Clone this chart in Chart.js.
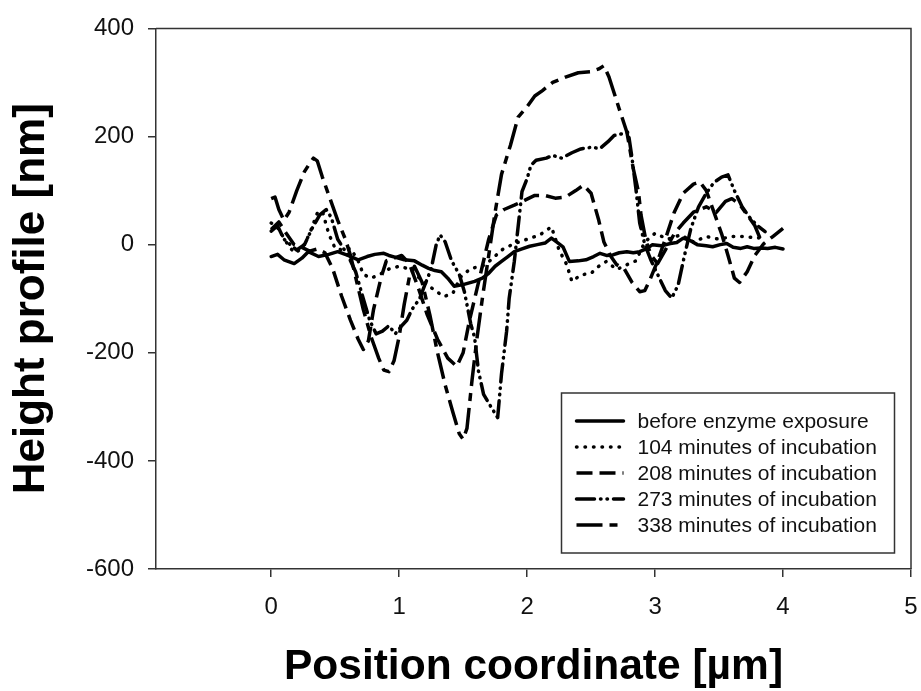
<!DOCTYPE html>
<html><head><meta charset="utf-8">
<script src="https://cdn.jsdelivr.net/npm/chart.js@4.4.1/dist/chart.umd.min.js"></script>
<style>html,body{margin:0;padding:0;background:#fff}#wrap{width:921px;height:691px}</style>
</head><body><div id="wrap"><canvas id="c" width="921" height="691"></canvas></div>
<script>
// ---------- data ----------
const seriesLabels = ['before enzyme exposure','104 minutes of incubation','208 minutes of incubation','273 minutes of incubation','338 minutes of incubation'];
const xTicks = [0, 1, 2, 3, 4, 5];
const yTicks = [-600, -400, -200, 0, 200, 400];

const xBefore = [0,0.05,0.1,0.18,0.24,0.29,0.37,0.45,0.52,0.6,0.68,0.75,0.81,0.88,0.92,0.98,1.04,1.12,1.18,1.23,1.28,1.33,1.38,1.43,1.5,1.59,1.65,1.7,1.75,1.8,1.85,1.9,1.96,2.02,2.08,2.14,2.19,2.23,2.28,2.33,2.4,2.46,2.52,2.57,2.62,2.67,2.72,2.78,2.83,2.88,2.93,2.98,3.05,3.12,3.17,3.22,3.27,3.33,3.4,3.45,3.51,3.56,3.61,3.67,3.72,3.77,3.83,3.88,3.94,4.0];
const yBefore = [-22,-18,-28,-35,-25,-13,-22,-18,-13,-20,-28,-22,-18,-16,-20,-24,-28,-30,-38,-44,-48,-50,-62,-77,-74,-68,-62,-53,-40,-31,-22,-13,-8,-3,0,3,12,5,-4,-31,-30,-28,-22,-16,-20,-19,-15,-13,-15,-13,-8,0,-2,2,4,12,8,0,-2,-4,0,2,-5,-7,-4,-7,-6,-7,-5,-8];

const x104 = [0,0.04,0.08,0.13,0.18,0.24,0.3,0.36,0.4,0.45,0.5,0.56,0.62,0.68,0.72,0.78,0.85,0.92,1.0,1.08,1.15,1.22,1.28,1.35,1.42,1.48,1.56,1.65,1.72,1.8,1.9,2.0,2.1,2.19,2.25,2.31,2.35,2.42,2.5,2.56,2.62,2.7,2.78,2.85,2.92,3.0,3.1,3.2,3.3,3.4,3.5,3.6,3.7,3.8,3.85];
const y104 = [40,35,20,0,-15,-8,20,58,62,20,-7,-10,-7,-30,-55,-62,-55,-45,-40,-45,-60,-74,-85,-96,-90,-60,-44,-40,-28,-10,2,10,18,33,-10,-37,-68,-56,-53,-40,-31,-46,-37,-30,5,21,10,18,5,15,10,15,15,12,15];

const x208 = [0,0.06,0.12,0.18,0.24,0.3,0.36,0.42,0.48,0.55,0.62,0.68,0.72,0.76,0.8,0.86,0.9,0.96,1.02,1.08,1.15,1.22,1.3,1.38,1.45,1.5,1.55,1.6,1.65,1.7,1.76,1.82,1.9,1.98,2.06,2.14,2.22,2.3,2.38,2.44,2.5,2.56,2.6,2.65,2.7,2.76,2.82,2.88,2.92,2.96,3.02,3.08,3.15,3.22,3.3,3.35,3.4,3.46,3.52,3.57,3.62,3.66,3.72,3.78,3.85,3.92,4.0];
const y208 = [28,42,20,0,-5,-12,-8,-15,-44,-95,-140,-175,-194,-178,-120,-60,-30,-25,-20,-35,-80,-130,-175,-210,-225,-200,-140,-90,-40,10,55,65,73,82,91,91,86,88,100,110,95,45,5,-20,-37,-45,-70,-87,-85,-65,-30,10,60,95,112,116,100,60,20,-20,-62,-70,-50,-20,2,15,30];

const x273 = [0,0.05,0.1,0.15,0.2,0.26,0.32,0.38,0.43,0.47,0.52,0.56,0.6,0.66,0.72,0.77,0.82,0.87,0.92,0.97,1.02,1.06,1.1,1.16,1.2,1.25,1.29,1.32,1.36,1.41,1.47,1.51,1.56,1.59,1.62,1.66,1.72,1.77,1.8,1.84,1.86,1.9,1.96,2.0,2.03,2.07,2.15,2.2,2.27,2.35,2.42,2.5,2.57,2.63,2.68,2.74,2.79,2.82,2.85,2.88,2.92,2.97,3.03,3.08,3.13,3.18,3.23,3.28,3.34,3.4,3.46,3.52,3.57,3.62,3.68,3.74,3.8,3.86];
const y273 = [25,35,10,0,-10,0,30,55,65,50,10,-5,-20,-50,-100,-140,-165,-160,-150,-165,-150,-140,-120,-100,-75,-45,0,18,5,-30,-55,-87,-147,-172,-234,-277,-301,-320,-239,-160,-99,-31,98,122,147,156,160,165,160,170,177,180,178,190,202,205,208,160,104,40,0,-30,-60,-85,-99,-75,-20,30,70,95,115,125,129,100,70,50,35,24];

const x338 = [0,0.03,0.06,0.1,0.14,0.2,0.26,0.3,0.33,0.36,0.4,0.46,0.52,0.58,0.62,0.67,0.72,0.78,0.84,0.88,0.92,0.96,1.0,1.04,1.08,1.12,1.18,1.24,1.3,1.36,1.42,1.47,1.5,1.53,1.57,1.61,1.65,1.7,1.75,1.8,1.87,1.93,2.0,2.06,2.12,2.2,2.3,2.4,2.5,2.56,2.6,2.64,2.67,2.72,2.78,2.83,2.87,2.89,2.93,2.97,3.02,3.08,3.15,3.22,3.3,3.4,3.48,3.55,3.6,3.66,3.72,3.78,3.82];
const y338 = [85,88,65,45,60,100,135,150,160,155,125,85,45,10,-20,-70,-120,-170,-210,-232,-235,-215,-170,-110,-60,-40,-70,-130,-200,-260,-310,-350,-360,-340,-250,-170,-100,-20,60,130,184,236,255,275,285,300,310,318,320,325,331,310,288,251,208,140,98,55,6,-20,-35,-10,20,40,60,70,60,80,85,75,55,35,12];

const seriesX = [xBefore, x104, x208, x273, x338];
const seriesY = [yBefore, y104, y208, y273, y338];

// ---------- styling ----------
const FONT = "'Liberation Sans', Arial, Helvetica, sans-serif";
const dashes = [[], [0.5, 8], [16, 7], [18, 6, 0.5, 6, 0.5, 6], [26, 7, 8, 7]];
const caps = ['round', 'round', 'butt', 'round', 'butt'];
const AXIS = '#333';

const datasets = seriesLabels.map((lab, i) => ({
  label: lab,
  data: seriesX[i].map((x, k) => ({x: x, y: seriesY[i][k]})),
  borderColor: '#000',
  borderWidth: 3.5,
  borderDash: dashes[i],
  borderCapStyle: caps[i],
  borderJoinStyle: 'round',
  pointRadius: 0,
  tension: 0,
  fill: false
}));

const framePlugin = {
  id: 'frame',
  afterDraw(chart) {
    const {ctx, chartArea: a} = chart;
    ctx.save();
    ctx.strokeStyle = AXIS; ctx.lineWidth = 1.5; ctx.setLineDash([]);
    ctx.beginPath();
    ctx.moveTo(a.left, a.top); ctx.lineTo(a.right, a.top); ctx.lineTo(a.right, a.bottom);
    ctx.stroke();
    ctx.restore();
  }
};

const legendPlugin = {
  id: 'boxLegend',
  afterDraw(chart) {
    const {ctx, chartArea: a} = chart;
    const w = 333, h = 160;
    const x0 = a.right - 16.5 - w, y0 = a.bottom - 16 - h;
    ctx.save();
    ctx.fillStyle = '#fff';
    ctx.fillRect(x0, y0, w, h);
    ctx.strokeStyle = AXIS; ctx.lineWidth = 1.5; ctx.setLineDash([]);
    ctx.strokeRect(x0, y0, w, h);
    ctx.font = '21px ' + FONT;
    ctx.textBaseline = 'middle';
    ctx.fillStyle = '#111';
    chart.data.datasets.forEach((ds, i) => {
      const cy = y0 + 28 + i * 26;
      ctx.beginPath();
      ctx.strokeStyle = '#000';
      ctx.lineWidth = 3.5;
      ctx.lineCap = ds.borderCapStyle;
      ctx.setLineDash(ds.borderDash);
      ctx.moveTo(x0 + 15, cy); ctx.lineTo(x0 + 62, cy);
      ctx.stroke();
      ctx.setLineDash([]);
      ctx.fillText(ds.label, x0 + 76, cy + 1);
    });
    ctx.restore();
  }
};

new Chart(document.getElementById('c'), {
  type: 'line',
  data: {datasets},
  plugins: [framePlugin, legendPlugin],
  options: {
    responsive: false,
    animation: false,
    devicePixelRatio: 1,
    layout: {padding: {left: 8, right: 10, top: 26, bottom: 1}},
    plugins: {legend: {display: false}, tooltip: {enabled: false}},
    scales: {
      x: {
        type: 'linear', min: -0.9, max: 5,
        afterBuildTicks: s => { s.ticks = xTicks.map(v => ({value: v})); },
        afterFit: s => { s.height = 691 - 569 - 1; s.paddingLeft = 0; s.paddingRight = 0; },
        ticks: {font: {family: FONT, size: 24}, color: '#111', padding: 16, maxRotation: 0, autoSkip: false},
        grid: {drawOnChartArea: false, drawTicks: true, tickLength: 8, color: AXIS, lineWidth: 1.5},
        border: {display: true, color: AXIS, width: 1.5},
        title: {display: true, text: 'Position coordinate [µm]', color: '#000',
                font: {family: FONT, size: 42.5, weight: 'bold', lineHeight: 1}, padding: {top: 0, bottom: 1}}
      },
      y: {
        type: 'linear', min: -600, max: 400,
        afterBuildTicks: s => { s.ticks = yTicks.map(v => ({value: v})); },
        afterFit: s => { s.width = 156 - 8; },
        ticks: {font: {family: FONT, size: 24}, color: '#111', padding: 14, autoSkip: false},
        grid: {drawOnChartArea: false, drawTicks: true, tickLength: 8, color: AXIS, lineWidth: 1.5},
        border: {display: true, color: AXIS, width: 1.5},
        title: {display: true, text: 'Height profile [nm]', color: '#000',
                font: {family: FONT, size: 44, weight: 'bold', lineHeight: 1}, padding: {top: 2, bottom: 0}}
      }
    }
  }
});
</script></body></html>
